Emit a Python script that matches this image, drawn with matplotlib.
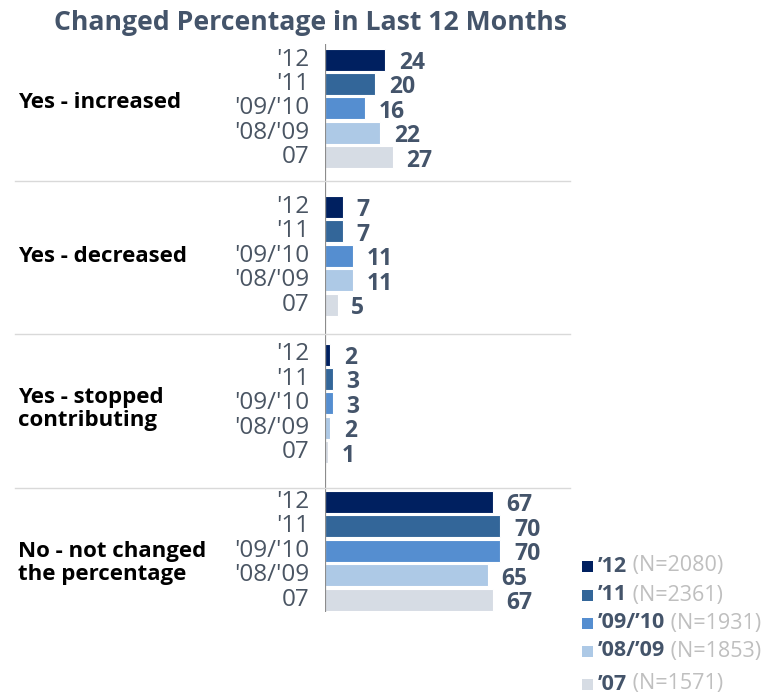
import matplotlib
matplotlib.use("Agg")
import matplotlib.pyplot as plt
from matplotlib.patches import Rectangle

plt.rcParams['font.family'] = ['Open Sans', 'DejaVu Sans']

title = "Changed Percentage in Last 12 Months"
categories = ["Yes - increased", "Yes - decreased", "Yes - stopped\ncontributing",
              "No - not changed\nthe percentage"]
years = ["'12", "'11", "'09/'10", "'08/'09", "07"]
legend_years = ["\u201912", "\u201911", "\u201909/\u201910", "\u201908/\u201909", "\u201907"]
legend_n = ["(N=2080)", "(N=2361)", "(N=1931)", "(N=1853)", "(N=1571)"]
values = [
    [24, 20, 16, 22, 27],
    [7, 7, 11, 11, 5],
    [2, 3, 3, 2, 1],
    [67, 70, 70, 65, 67],
]
colors = ["#002060", "#336699", "#558ed0", "#adc9e6", "#d6dce4"]

W, H = 766, 699
x0 = 325          # pixel position of the value axis
px_per_unit = 2.5

fig = plt.figure(figsize=(W / 100, H / 100), dpi=100)
ax = fig.add_axes([x0 / W, 0, 1 - x0 / W, 1])
ax.set_xlim(0, (W - x0) / px_per_unit)
ax.set_ylim(H, 0)
ax.axis("off")

group_start, group_pitch, bar_pitch, bar_h = 59.5, 147.5, 24.4, 22
cat_y = [103, 256, 409, 563]
sep_y = [181, 334, 488]

for g, vals in enumerate(values):
    ys = [group_start + g * group_pitch + i * bar_pitch for i in range(len(vals))]
    ax.barh(ys, vals, height=bar_h, color=colors, edgecolor="white", linewidth=0.8)
    for y, v, lab in zip(ys, vals, years):
        ax.annotate(str(v), (v, y), xytext=(10, -2.5), textcoords="offset points",
                    ha="left", va="center", fontsize=16.5, fontweight="bold",
                    color="#44546a")
        ax.annotate(lab, (0, y), xytext=(-11, 0), textcoords="offset points",
                    ha="right", va="center", fontsize=17.5, color="#4a5563")
    fig.text(18 / W, 1 - cat_y[g] / H, categories[g], ha="left", va="center",
             fontsize=16, fontweight="bold", color="black", linespacing=1.1)

ax.vlines(0, 44, 612, color="#8c8c8c", linewidth=1.6)
for y in sep_y:
    fig.add_artist(plt.Line2D([15 / W, 570 / W], [1 - y / H, 1 - y / H],
                              color="#d9d9d9", linewidth=1))

fig.text(310 / W, 1 - 23 / H, title, ha="center", va="center", fontsize=19.2,
         fontweight="bold", color="#44546a")

leg_y = [566, 595, 623, 651, 684]
for c, ly, ln, y in zip(colors, legend_years, legend_n, leg_y):
    fig.add_artist(Rectangle((582 / W, 1 - (y + 5.5) / H), 11 / W, 11 / H,
                             facecolor=c, edgecolor="none"))
    t = fig.text(598 / W, 1 - y / H, ly, ha="left", va="center", fontsize=15.5,
                 fontweight="bold", color="#44546a")
    ax.annotate(" " + ln, xy=(1, 0.5), xycoords=t, ha="left", va="center",
                fontsize=15.5, color="#bfbfbf", annotation_clip=False)

fig.savefig("out.png", dpi=100)
